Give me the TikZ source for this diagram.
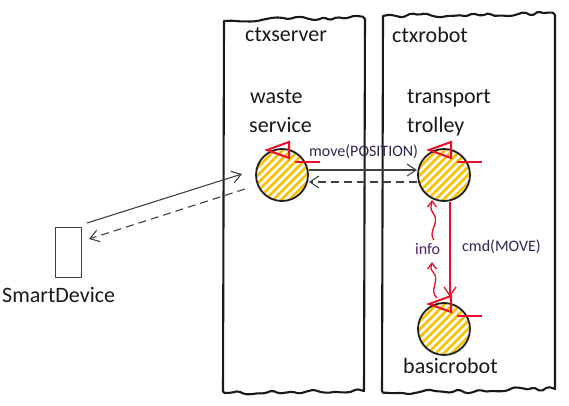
\documentclass[tikz,border=0pt]{standalone}
\usepackage{fontspec}
\setmainfont{Carlito}
\usetikzlibrary{arrows.meta,decorations.pathmorphing,calc}
\definecolor{hatchc}{HTML}{FFC000}
\definecolor{mred}{HTML}{E8102A}
\definecolor{agray}{HTML}{404040}
\definecolor{lblc}{HTML}{2A2A50}
\definecolor{infoc}{HTML}{4A1F6E}
\begin{document}
\begin{tikzpicture}[x=1pt,y=-1pt,
  cont/.style={draw=black!90, line width=2.1pt, line join=round},
  rough/.style={decoration={random steps,segment length=7pt,amplitude=2.6pt}, rounded corners=2pt},
  big/.style={font=\fontsize{22}{26}\selectfont, text=black!90, inner sep=0pt, anchor=base west},
  small/.style={font=\fontsize{16}{19}\selectfont, text=lblc, inner sep=0pt, anchor=base west},
  circ/.style={circle, draw=black!88, line width=1.8pt, minimum size=52pt, inner sep=0pt, fill=white,
    path picture={\foreach \k in {-72,-64,...,72}{\draw[hatchc, line width=2.5pt] ([xshift=\k pt]path picture bounding box.center) ++(-40pt,-40pt) -- ++(80pt,80pt);}}},
  sdbox/.style={draw=agray, line width=1pt, fill=white, minimum width=26pt, minimum height=50pt, inner sep=0pt},
  garrow/.style={draw=agray, line width=1.1pt, -{Straight Barb[length=9pt,width=12pt]}},
  gdash/.style={dash pattern=on 8pt off 5pt},
  rarrow/.style={draw=mred, line width=1.3pt, -{Straight Barb[length=9pt,width=12pt]}},
  rwave/.style={draw=mred, line width=1.3pt, -{Straight Barb[length=6pt,width=9pt]}},
  redmark/.style={draw=mred, line width=2pt, line join=miter}
]
\useasboundingbox (0,0) rectangle (569,406);
\pgfmathsetseed{11}
% containers
\draw[cont] (224,21) decorate[rough]{-- (365,17)} -- (364,391) decorate[rough]{-- (223,393)} -- cycle;
\draw[cont] (383,16) decorate[rough]{-- (555,13)} -- (555,389) decorate[rough]{-- (382,393)} -- cycle;
% container titles
\node[big] (tsrv) at (245,42) {ctxserver};
\node[big] (trob) at (392,43) {ctxrobot};
% actor names
\node[big] (nws1) at (250,104) {waste};
\node[big] (nws2) at (249,133) {service};
\node[big] (ntt1) at (407,104) {transport};
\node[big] (ntt2) at (407,133) {trolley};
\node[big] (nbr) at (403,373) {basicrobot};
% actors
\node[circ] (ws) at (282,175) {};
\node[circ] (tt) at (444,175) {};
\node[circ] (br) at (444,329) {};
% red marks
\foreach \a in {ws,tt,br}{
  \draw[redmark] ([shift={(-15,-25)}]\a.center) -- ++(22,-8) -- ++(0,16) -- cycle;
  \draw[redmark] ([shift={(13,-13)}]\a.center) -- ++(25,0);
}
% smart device
\node[sdbox] (sd) at (68,252) {};
\node[big] (nsd) at (2,302) {SmartDevice};
% ws <-> tt
\draw[garrow] ([yshift=5pt]ws.east) -- ([yshift=5pt]tt.west);
\draw[garrow,gdash] ([yshift=-7pt]tt.west) -- ([yshift=-7pt]ws.east);
\node[small] (lmove) at (309,157) {move(POSITION)};
% sd <-> ws
\coordinate (sdA) at (87,223);
\coordinate (wsA) at (242,174);
\coordinate (wsB) at (245,189);
\coordinate (sdB) at (89,239);
\draw[garrow] (sdA) -- (wsA);
\draw[garrow,gdash] (wsB) -- (sdB);
% cmd
\coordinate (cmdEnd) at (450,297);
\draw[rarrow] ([xshift=6pt]tt.south) -- (cmdEnd);
\node[small] (lcmd) at (462,251) {cmd(MOVE)};
% info
\node[small, text=infoc] (linfo) at (415,254) {info};
\coordinate (iA) at (437,298);
\coordinate (iB) at (432,262);
\coordinate (iC) at (434,240);
\coordinate (iD) at (432,200);
\draw[rwave] (iA) .. controls (428,290) and (441,280) .. (433,272) .. controls (429,268) and (432,266) .. (iB);
\draw[rwave] (iC) .. controls (427,232) and (441,222) .. (433,213) .. controls (429,208) and (432,204) .. (iD);
\end{tikzpicture}
\end{document}
